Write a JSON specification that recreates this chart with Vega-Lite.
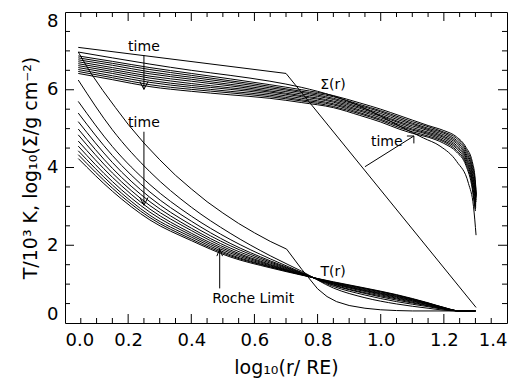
{
"$schema": "https://vega.github.io/schema/vega-lite/v6.json",
"autosize": {"type": "none"},
"padding": {"left": 65, "top": 12, "right": 16, "bottom": 58},
"width": 442,
"height": 311,
"config": {"view": {"stroke": "black", "strokeWidth": 1}, "axis": {"labelFont": "DejaVu Sans", "titleFont": "DejaVu Sans", "labelColor": "black", "titleColor": "black", "domain": false, "grid": false}},
"datasets": {
"xt": [
{"v":0.05,"k":"minor"},{"v":0.1,"k":"minor"},{"v":0.15,"k":"minor"},{"v":0.2,"k":"major"},{"v":0.25,"k":"minor"},{"v":0.3,"k":"minor"},{"v":0.35,"k":"minor"},{"v":0.4,"k":"major"},{"v":0.45,"k":"minor"},{"v":0.5,"k":"minor"},{"v":0.55,"k":"minor"},{"v":0.6,"k":"major"},{"v":0.65,"k":"minor"},{"v":0.7,"k":"minor"},{"v":0.75,"k":"minor"},{"v":0.8,"k":"major"},{"v":0.85,"k":"minor"},{"v":0.9,"k":"minor"},{"v":0.95,"k":"minor"},{"v":1.0,"k":"major"},{"v":1.05,"k":"minor"},{"v":1.1,"k":"minor"},{"v":1.15,"k":"minor"},{"v":1.2,"k":"major"},{"v":1.25,"k":"minor"},{"v":1.3,"k":"minor"},{"v":1.35,"k":"minor"}
],
"yt": [
{"v":0.5,"k":"minor"},{"v":1,"k":"minor"},{"v":1.5,"k":"minor"},{"v":2,"k":"major"},{"v":2.5,"k":"minor"},{"v":3,"k":"minor"},{"v":3.5,"k":"minor"},{"v":4,"k":"major"},{"v":4.5,"k":"minor"},{"v":5,"k":"minor"},{"v":5.5,"k":"minor"},{"v":6,"k":"major"},{"v":6.5,"k":"minor"},{"v":7,"k":"minor"},{"v":7.5,"k":"minor"}
],
"tfam": [
{"s":"T1","x":0.042,"y":6.25},{"s":"T1","x":0.15,"y":4.97},{"s":"T1","x":0.269,"y":3.89},{"s":"T1","x":0.4,"y":2.98},{"s":"T1","x":0.523,"y":2.31},{"s":"T1","x":0.65,"y":1.73},{"s":"T1","x":0.75,"y":1.33},{"s":"T1","x":0.85,"y":0.90},{"s":"T1","x":0.95,"y":0.65},{"s":"T1","x":1.05,"y":0.49},{"s":"T1","x":1.15,"y":0.38},{"s":"T1","x":1.2,"y":0.33},{"s":"T1","x":1.25,"y":0.31},{"s":"T1","x":1.3,"y":0.31},
{"s":"T2","x":0.042,"y":5.70},{"s":"T2","x":0.15,"y":4.54},{"s":"T2","x":0.269,"y":3.56},{"s":"T2","x":0.4,"y":2.75},{"s":"T2","x":0.523,"y":2.15},{"s":"T2","x":0.65,"y":1.65},{"s":"T2","x":0.75,"y":1.30},{"s":"T2","x":0.85,"y":0.94},{"s":"T2","x":0.95,"y":0.72},{"s":"T2","x":1.05,"y":0.55},{"s":"T2","x":1.15,"y":0.42},{"s":"T2","x":1.2,"y":0.35},{"s":"T2","x":1.25,"y":0.31},{"s":"T2","x":1.3,"y":0.31},
{"s":"T3","x":0.042,"y":5.40},{"s":"T3","x":0.15,"y":4.31},{"s":"T3","x":0.269,"y":3.37},{"s":"T3","x":0.4,"y":2.62},{"s":"T3","x":0.523,"y":2.05},{"s":"T3","x":0.65,"y":1.60},{"s":"T3","x":0.75,"y":1.29},{"s":"T3","x":0.85,"y":0.97},{"s":"T3","x":0.95,"y":0.76},{"s":"T3","x":1.05,"y":0.59},{"s":"T3","x":1.15,"y":0.44},{"s":"T3","x":1.2,"y":0.36},{"s":"T3","x":1.25,"y":0.31},{"s":"T3","x":1.3,"y":0.31},
{"s":"T4","x":0.042,"y":5.18},{"s":"T4","x":0.15,"y":4.13},{"s":"T4","x":0.269,"y":3.23},{"s":"T4","x":0.4,"y":2.52},{"s":"T4","x":0.523,"y":1.99},{"s":"T4","x":0.65,"y":1.57},{"s":"T4","x":0.75,"y":1.28},{"s":"T4","x":0.85,"y":0.98},{"s":"T4","x":0.95,"y":0.78},{"s":"T4","x":1.05,"y":0.62},{"s":"T4","x":1.15,"y":0.45},{"s":"T4","x":1.2,"y":0.37},{"s":"T4","x":1.25,"y":0.31},{"s":"T4","x":1.3,"y":0.31},
{"s":"T5","x":0.042,"y":4.99},{"s":"T5","x":0.15,"y":3.98},{"s":"T5","x":0.269,"y":3.12},{"s":"T5","x":0.4,"y":2.44},{"s":"T5","x":0.523,"y":1.93},{"s":"T5","x":0.65,"y":1.54},{"s":"T5","x":0.75,"y":1.27},{"s":"T5","x":0.85,"y":1.00},{"s":"T5","x":0.95,"y":0.81},{"s":"T5","x":1.05,"y":0.64},{"s":"T5","x":1.15,"y":0.47},{"s":"T5","x":1.2,"y":0.37},{"s":"T5","x":1.25,"y":0.31},{"s":"T5","x":1.3,"y":0.31},
{"s":"T6","x":0.042,"y":4.84},{"s":"T6","x":0.15,"y":3.86},{"s":"T6","x":0.269,"y":3.02},{"s":"T6","x":0.4,"y":2.38},{"s":"T6","x":0.523,"y":1.88},{"s":"T6","x":0.65,"y":1.51},{"s":"T6","x":0.75,"y":1.26},{"s":"T6","x":0.85,"y":1.01},{"s":"T6","x":0.95,"y":0.83},{"s":"T6","x":1.05,"y":0.66},{"s":"T6","x":1.15,"y":0.48},{"s":"T6","x":1.2,"y":0.38},{"s":"T6","x":1.25,"y":0.31},{"s":"T6","x":1.3,"y":0.31},
{"s":"T7","x":0.042,"y":4.68},{"s":"T7","x":0.15,"y":3.75},{"s":"T7","x":0.269,"y":2.93},{"s":"T7","x":0.4,"y":2.31},{"s":"T7","x":0.523,"y":1.84},{"s":"T7","x":0.65,"y":1.49},{"s":"T7","x":0.75,"y":1.25},{"s":"T7","x":0.85,"y":1.02},{"s":"T7","x":0.95,"y":0.84},{"s":"T7","x":1.05,"y":0.68},{"s":"T7","x":1.15,"y":0.49},{"s":"T7","x":1.2,"y":0.38},{"s":"T7","x":1.25,"y":0.31},{"s":"T7","x":1.3,"y":0.31},
{"s":"T8","x":0.042,"y":4.55},{"s":"T8","x":0.15,"y":3.64},{"s":"T8","x":0.269,"y":2.85},{"s":"T8","x":0.4,"y":2.26},{"s":"T8","x":0.523,"y":1.80},{"s":"T8","x":0.65,"y":1.47},{"s":"T8","x":0.75,"y":1.25},{"s":"T8","x":0.85,"y":1.03},{"s":"T8","x":0.95,"y":0.86},{"s":"T8","x":1.05,"y":0.69},{"s":"T8","x":1.15,"y":0.50},{"s":"T8","x":1.2,"y":0.39},{"s":"T8","x":1.25,"y":0.31},{"s":"T8","x":1.3,"y":0.31},
{"s":"T9","x":0.042,"y":4.43},{"s":"T9","x":0.15,"y":3.55},{"s":"T9","x":0.269,"y":2.77},{"s":"T9","x":0.4,"y":2.21},{"s":"T9","x":0.523,"y":1.76},{"s":"T9","x":0.65,"y":1.45},{"s":"T9","x":0.75,"y":1.24},{"s":"T9","x":0.85,"y":1.04},{"s":"T9","x":0.95,"y":0.88},{"s":"T9","x":1.05,"y":0.71},{"s":"T9","x":1.15,"y":0.51},{"s":"T9","x":1.2,"y":0.39},{"s":"T9","x":1.25,"y":0.31},{"s":"T9","x":1.3,"y":0.31},
{"s":"T10","x":0.042,"y":4.33},{"s":"T10","x":0.15,"y":3.47},{"s":"T10","x":0.269,"y":2.71},{"s":"T10","x":0.4,"y":2.16},{"s":"T10","x":0.523,"y":1.73},{"s":"T10","x":0.65,"y":1.44},{"s":"T10","x":0.75,"y":1.24},{"s":"T10","x":0.85,"y":1.05},{"s":"T10","x":0.95,"y":0.89},{"s":"T10","x":1.05,"y":0.72},{"s":"T10","x":1.15,"y":0.51},{"s":"T10","x":1.2,"y":0.40},{"s":"T10","x":1.25,"y":0.31},{"s":"T10","x":1.3,"y":0.31},
{"s":"T11","x":0.042,"y":4.23},{"s":"T11","x":0.15,"y":3.39},{"s":"T11","x":0.269,"y":2.65},{"s":"T11","x":0.4,"y":2.12},{"s":"T11","x":0.523,"y":1.70},{"s":"T11","x":0.65,"y":1.42},{"s":"T11","x":0.75,"y":1.23},{"s":"T11","x":0.85,"y":1.06},{"s":"T11","x":0.95,"y":0.90},{"s":"T11","x":1.05,"y":0.73},{"s":"T11","x":1.15,"y":0.52},{"s":"T11","x":1.2,"y":0.40},{"s":"T11","x":1.25,"y":0.31},{"s":"T11","x":1.3,"y":0.31}
],
"sfam": [
{"s":"S1","x":0.042,"y":6.97},{"s":"S1","x":0.15,"y":6.82},{"s":"S1","x":0.269,"y":6.66},{"s":"S1","x":0.4,"y":6.50},{"s":"S1","x":0.523,"y":6.37},{"s":"S1","x":0.649,"y":6.22},{"s":"S1","x":0.75,"y":6.06},{"s":"S1","x":0.85,"y":5.84},{"s":"S1","x":0.934,"y":5.58},{"s":"S1","x":1.0,"y":5.32},{"s":"S1","x":1.061,"y":5.06},{"s":"S1","x":1.1,"y":4.90},{"s":"S1","x":1.135,"y":4.76},{"s":"S1","x":1.188,"y":4.55},{"s":"S1","x":1.241,"y":4.15},{"s":"S1","x":1.278,"y":3.59},{"s":"S1","x":1.294,"y":2.99},{"s":"S1","x":1.302,"y":2.26},
{"s":"S2","x":0.042,"y":6.87},{"s":"S2","x":0.15,"y":6.73},{"s":"S2","x":0.269,"y":6.57},{"s":"S2","x":0.4,"y":6.42},{"s":"S2","x":0.523,"y":6.28},{"s":"S2","x":0.649,"y":6.13},{"s":"S2","x":0.75,"y":6.00},{"s":"S2","x":0.85,"y":5.85},{"s":"S2","x":0.934,"y":5.66},{"s":"S2","x":1.0,"y":5.50},{"s":"S2","x":1.061,"y":5.33},{"s":"S2","x":1.1,"y":5.22},{"s":"S2","x":1.15,"y":5.08},{"s":"S2","x":1.2,"y":4.95},{"s":"S2","x":1.24,"y":4.79},{"s":"S2","x":1.27,"y":4.52},{"s":"S2","x":1.29,"y":4.15},{"s":"S2","x":1.298,"y":3.80},{"s":"S2","x":1.303,"y":3.30},
{"s":"S3","x":0.042,"y":6.82},{"s":"S3","x":0.15,"y":6.68},{"s":"S3","x":0.269,"y":6.52},{"s":"S3","x":0.4,"y":6.37},{"s":"S3","x":0.523,"y":6.23},{"s":"S3","x":0.649,"y":6.09},{"s":"S3","x":0.75,"y":5.96},{"s":"S3","x":0.85,"y":5.82},{"s":"S3","x":0.934,"y":5.62},{"s":"S3","x":1.0,"y":5.46},{"s":"S3","x":1.061,"y":5.29},{"s":"S3","x":1.1,"y":5.18},{"s":"S3","x":1.15,"y":5.05},{"s":"S3","x":1.2,"y":4.91},{"s":"S3","x":1.24,"y":4.75},{"s":"S3","x":1.27,"y":4.47},{"s":"S3","x":1.29,"y":4.07},{"s":"S3","x":1.298,"y":3.72},{"s":"S3","x":1.303,"y":3.25},
{"s":"S4","x":0.042,"y":6.77},{"s":"S4","x":0.15,"y":6.63},{"s":"S4","x":0.269,"y":6.46},{"s":"S4","x":0.4,"y":6.32},{"s":"S4","x":0.523,"y":6.19},{"s":"S4","x":0.649,"y":6.05},{"s":"S4","x":0.75,"y":5.93},{"s":"S4","x":0.85,"y":5.78},{"s":"S4","x":0.934,"y":5.59},{"s":"S4","x":1.0,"y":5.43},{"s":"S4","x":1.061,"y":5.25},{"s":"S4","x":1.1,"y":5.14},{"s":"S4","x":1.15,"y":5.01},{"s":"S4","x":1.2,"y":4.88},{"s":"S4","x":1.24,"y":4.70},{"s":"S4","x":1.27,"y":4.42},{"s":"S4","x":1.29,"y":3.99},{"s":"S4","x":1.298,"y":3.64},{"s":"S4","x":1.302,"y":3.21},
{"s":"S5","x":0.042,"y":6.72},{"s":"S5","x":0.15,"y":6.57},{"s":"S5","x":0.269,"y":6.41},{"s":"S5","x":0.4,"y":6.27},{"s":"S5","x":0.523,"y":6.14},{"s":"S5","x":0.649,"y":6.01},{"s":"S5","x":0.75,"y":5.89},{"s":"S5","x":0.85,"y":5.75},{"s":"S5","x":0.934,"y":5.55},{"s":"S5","x":1.0,"y":5.39},{"s":"S5","x":1.061,"y":5.21},{"s":"S5","x":1.1,"y":5.11},{"s":"S5","x":1.15,"y":4.98},{"s":"S5","x":1.2,"y":4.84},{"s":"S5","x":1.24,"y":4.66},{"s":"S5","x":1.27,"y":4.36},{"s":"S5","x":1.29,"y":3.92},{"s":"S5","x":1.297,"y":3.57},{"s":"S5","x":1.302,"y":3.16},
{"s":"S6","x":0.042,"y":6.67},{"s":"S6","x":0.15,"y":6.52},{"s":"S6","x":0.269,"y":6.35},{"s":"S6","x":0.4,"y":6.22},{"s":"S6","x":0.523,"y":6.10},{"s":"S6","x":0.649,"y":5.97},{"s":"S6","x":0.75,"y":5.85},{"s":"S6","x":0.85,"y":5.71},{"s":"S6","x":0.934,"y":5.52},{"s":"S6","x":1.0,"y":5.35},{"s":"S6","x":1.061,"y":5.17},{"s":"S6","x":1.1,"y":5.07},{"s":"S6","x":1.15,"y":4.95},{"s":"S6","x":1.2,"y":4.80},{"s":"S6","x":1.24,"y":4.62},{"s":"S6","x":1.27,"y":4.31},{"s":"S6","x":1.29,"y":3.84},{"s":"S6","x":1.297,"y":3.49},{"s":"S6","x":1.302,"y":3.11},
{"s":"S7","x":0.042,"y":6.62},{"s":"S7","x":0.15,"y":6.47},{"s":"S7","x":0.269,"y":6.30},{"s":"S7","x":0.4,"y":6.16},{"s":"S7","x":0.523,"y":6.05},{"s":"S7","x":0.649,"y":5.94},{"s":"S7","x":0.75,"y":5.82},{"s":"S7","x":0.85,"y":5.68},{"s":"S7","x":0.934,"y":5.48},{"s":"S7","x":1.0,"y":5.32},{"s":"S7","x":1.061,"y":5.14},{"s":"S7","x":1.1,"y":5.03},{"s":"S7","x":1.15,"y":4.91},{"s":"S7","x":1.2,"y":4.77},{"s":"S7","x":1.24,"y":4.57},{"s":"S7","x":1.27,"y":4.26},{"s":"S7","x":1.29,"y":3.76},{"s":"S7","x":1.297,"y":3.41},{"s":"S7","x":1.301,"y":3.07},
{"s":"S8","x":0.042,"y":6.57},{"s":"S8","x":0.15,"y":6.42},{"s":"S8","x":0.269,"y":6.24},{"s":"S8","x":0.4,"y":6.11},{"s":"S8","x":0.523,"y":6.01},{"s":"S8","x":0.649,"y":5.90},{"s":"S8","x":0.75,"y":5.78},{"s":"S8","x":0.85,"y":5.64},{"s":"S8","x":0.934,"y":5.45},{"s":"S8","x":1.0,"y":5.28},{"s":"S8","x":1.061,"y":5.10},{"s":"S8","x":1.1,"y":4.99},{"s":"S8","x":1.15,"y":4.88},{"s":"S8","x":1.2,"y":4.73},{"s":"S8","x":1.24,"y":4.53},{"s":"S8","x":1.27,"y":4.21},{"s":"S8","x":1.29,"y":3.68},{"s":"S8","x":1.297,"y":3.33},{"s":"S8","x":1.301,"y":3.02},
{"s":"S9","x":0.042,"y":6.52},{"s":"S9","x":0.15,"y":6.36},{"s":"S9","x":0.269,"y":6.19},{"s":"S9","x":0.4,"y":6.06},{"s":"S9","x":0.523,"y":5.96},{"s":"S9","x":0.649,"y":5.86},{"s":"S9","x":0.75,"y":5.74},{"s":"S9","x":0.85,"y":5.61},{"s":"S9","x":0.934,"y":5.41},{"s":"S9","x":1.0,"y":5.24},{"s":"S9","x":1.061,"y":5.06},{"s":"S9","x":1.1,"y":4.96},{"s":"S9","x":1.15,"y":4.85},{"s":"S9","x":1.2,"y":4.69},{"s":"S9","x":1.24,"y":4.49},{"s":"S9","x":1.27,"y":4.15},{"s":"S9","x":1.29,"y":3.61},{"s":"S9","x":1.296,"y":3.26},{"s":"S9","x":1.301,"y":2.97},
{"s":"S10","x":0.042,"y":6.47},{"s":"S10","x":0.15,"y":6.31},{"s":"S10","x":0.269,"y":6.13},{"s":"S10","x":0.4,"y":6.01},{"s":"S10","x":0.523,"y":5.92},{"s":"S10","x":0.649,"y":5.82},{"s":"S10","x":0.75,"y":5.71},{"s":"S10","x":0.85,"y":5.57},{"s":"S10","x":0.934,"y":5.38},{"s":"S10","x":1.0,"y":5.21},{"s":"S10","x":1.061,"y":5.02},{"s":"S10","x":1.1,"y":4.92},{"s":"S10","x":1.15,"y":4.81},{"s":"S10","x":1.2,"y":4.66},{"s":"S10","x":1.24,"y":4.44},{"s":"S10","x":1.27,"y":4.10},{"s":"S10","x":1.29,"y":3.53},{"s":"S10","x":1.296,"y":3.18},{"s":"S10","x":1.300,"y":2.93},
{"s":"S11","x":0.042,"y":6.42},{"s":"S11","x":0.15,"y":6.26},{"s":"S11","x":0.269,"y":6.08},{"s":"S11","x":0.4,"y":5.96},{"s":"S11","x":0.523,"y":5.87},{"s":"S11","x":0.649,"y":5.78},{"s":"S11","x":0.75,"y":5.67},{"s":"S11","x":0.85,"y":5.54},{"s":"S11","x":0.934,"y":5.34},{"s":"S11","x":1.0,"y":5.17},{"s":"S11","x":1.061,"y":4.98},{"s":"S11","x":1.1,"y":4.88},{"s":"S11","x":1.15,"y":4.78},{"s":"S11","x":1.2,"y":4.62},{"s":"S11","x":1.24,"y":4.40},{"s":"S11","x":1.27,"y":4.05},{"s":"S11","x":1.29,"y":3.45},{"s":"S11","x":1.296,"y":3.10},{"s":"S11","x":1.300,"y":2.88}
],
"init": [
{"s":"S0","x":0.042,"y":7.09},{"s":"S0","x":0.700,"y":6.42},{"s":"S0","x":1.302,"y":0.40},
{"s":"T0","x":0.042,"y":6.97},{"s":"T0","x":0.08,"y":6.45},{"s":"T0","x":0.12,"y":5.98},{"s":"T0","x":0.16,"y":5.54},{"s":"T0","x":0.2,"y":5.11},{"s":"T0","x":0.25,"y":4.63},{"s":"T0","x":0.3,"y":4.20},{"s":"T0","x":0.35,"y":3.80},{"s":"T0","x":0.4,"y":3.45},{"s":"T0","x":0.45,"y":3.12},{"s":"T0","x":0.5,"y":2.83},{"s":"T0","x":0.55,"y":2.56},{"s":"T0","x":0.6,"y":2.32},{"s":"T0","x":0.65,"y":2.10},{"s":"T0","x":0.702,"y":1.90},{"s":"T0","x":0.75,"y":1.38},{"s":"T0","x":0.8,"y":0.88},{"s":"T0","x":0.83,"y":0.68},{"s":"T0","x":0.86,"y":0.55},{"s":"T0","x":0.9,"y":0.45},{"s":"T0","x":0.95,"y":0.38},{"s":"T0","x":1.0,"y":0.34},{"s":"T0","x":1.05,"y":0.32},{"s":"T0","x":1.1,"y":0.31},{"s":"T0","x":1.3,"y":0.31}
],
"arrows": [
{"a":"a1s","o":0,"x":0.25,"y":6.89},{"a":"a1s","o":1,"x":0.25,"y":6.01},
{"a":"a1h","o":0,"x":0.237,"y":6.21},{"a":"a1h","o":1,"x":0.25,"y":6.01},{"a":"a1h","o":2,"x":0.263,"y":6.21},
{"a":"a2s","o":0,"x":0.25,"y":4.92},{"a":"a2s","o":1,"x":0.25,"y":3.03},
{"a":"a2h","o":0,"x":0.237,"y":3.23},{"a":"a2h","o":1,"x":0.25,"y":3.03},{"a":"a2h","o":2,"x":0.263,"y":3.23},
{"a":"a3s","o":0,"x":0.950,"y":4.02},{"a":"a3s","o":1,"x":1.105,"y":4.81},
{"a":"a3h","o":0,"x":1.083,"y":4.81},{"a":"a3h","o":1,"x":1.105,"y":4.81},{"a":"a3h","o":2,"x":1.105,"y":4.62},
{"a":"a4s","o":0,"x":0.49,"y":0.89},{"a":"a4s","o":1,"x":0.49,"y":1.90},
{"a":"a4h","o":0,"x":0.481,"y":1.72},{"a":"a4h","o":1,"x":0.49,"y":1.90},{"a":"a4h","o":2,"x":0.499,"y":1.72}
],
"labels": [
{"t":"time","x":0.25,"y":7.10},
{"t":"time","x":0.25,"y":5.14},
{"t":"time","x":1.019,"y":4.65},
{"t":"Σ(r)","x":0.849,"y":6.12},
{"t":"T(r)","x":0.849,"y":1.32},
{"t":"Roche Limit","x":0.596,"y":0.62}
]
},
"layer": [
{
"data": {"name": "sfam"},
"mark": {"type": "line", "interpolate": "monotone", "color": "black", "strokeWidth": 1},
"encoding": {
"x": {"field": "x", "type": "quantitative", "scale": {"domain": [0, 1.4], "nice": false, "zero": false},
"axis": {"orient": "bottom", "values": [0,0.2,0.4,0.6,0.8,1.0,1.2,1.4], "format": ".1f", "ticks": false, "labelPadding": 8, "labelFontSize": 18, "title": "log₁₀(r/ RE)", "titleFontSize": 19, "titleFontWeight": "normal", "titlePadding": 9}},
"y": {"field": "y", "type": "quantitative", "scale": {"domain": [0, 8], "nice": false, "zero": false},
"axis": {"orient": "left", "values": [0,2,4,6,8], "format": "d", "ticks": false, "labelPadding": 7, "labelFlush": true, "labelFontSize": 18, "title": "T/10³ K,  log₁₀(Σ/g cm⁻²)", "titleFontSize": 19, "titleFontWeight": "normal", "titlePadding": 6}},
"detail": {"field": "s"}
}
},
{
"data": {"name": "tfam"},
"mark": {"type": "line", "interpolate": "monotone", "color": "black", "strokeWidth": 1},
"encoding": {
"x": {"field": "x", "type": "quantitative", "axis": null},
"y": {"field": "y", "type": "quantitative", "axis": null},
"detail": {"field": "s"}
}
},
{
"data": {"name": "init"},
"mark": {"type": "line", "color": "black", "strokeWidth": 1},
"encoding": {
"x": {"field": "x", "type": "quantitative", "axis": null},
"y": {"field": "y", "type": "quantitative", "axis": null},
"detail": {"field": "s"}
}
},
{
"data": {"name": "arrows"},
"mark": {"type": "line", "color": "black", "strokeWidth": 1},
"encoding": {
"x": {"field": "x", "type": "quantitative", "axis": null},
"y": {"field": "y", "type": "quantitative", "axis": null},
"detail": {"field": "a"},
"order": {"field": "o"}
}
},
{
"data": {"name": "xt"},
"mark": {"type": "tick", "orient": "vertical", "thickness": 1, "color": "black", "opacity": 1, "clip": true},
"encoding": {
"x": {"field": "v", "type": "quantitative", "axis": null},
"y": {"datum": 0, "type": "quantitative", "axis": null},
"size": {"field": "k", "type": "nominal", "scale": {"domain": ["minor", "major"], "range": [10, 18]}, "legend": null}
}
},
{
"data": {"name": "xt"},
"mark": {"type": "tick", "orient": "vertical", "thickness": 1, "color": "black", "opacity": 1, "clip": true},
"encoding": {
"x": {"field": "v", "type": "quantitative", "axis": null},
"y": {"datum": 8, "type": "quantitative", "axis": null},
"size": {"field": "k", "type": "nominal", "scale": {"domain": ["minor", "major"], "range": [10, 18]}, "legend": null}
}
},
{
"data": {"name": "yt"},
"mark": {"type": "tick", "orient": "horizontal", "thickness": 1, "color": "black", "opacity": 1, "clip": true},
"encoding": {
"y": {"field": "v", "type": "quantitative", "axis": null},
"x": {"datum": 0, "type": "quantitative", "axis": null},
"size": {"field": "k", "type": "nominal", "scale": {"domain": ["minor", "major"], "range": [10, 18]}, "legend": null}
}
},
{
"data": {"name": "yt"},
"mark": {"type": "tick", "orient": "horizontal", "thickness": 1, "color": "black", "opacity": 1, "clip": true},
"encoding": {
"y": {"field": "v", "type": "quantitative", "axis": null},
"x": {"datum": 1.4, "type": "quantitative", "axis": null},
"size": {"field": "k", "type": "nominal", "scale": {"domain": ["minor", "major"], "range": [10, 18]}, "legend": null}
}
},
{
"data": {"name": "labels"},
"mark": {"type": "text", "font": "DejaVu Sans", "fontSize": 14, "color": "black", "align": "center", "baseline": "middle"},
"encoding": {
"x": {"field": "x", "type": "quantitative", "axis": null},
"y": {"field": "y", "type": "quantitative", "axis": null},
"text": {"field": "t"}
}
}
],
"resolve": {"axis": {"x": "independent", "y": "independent"}}
}
